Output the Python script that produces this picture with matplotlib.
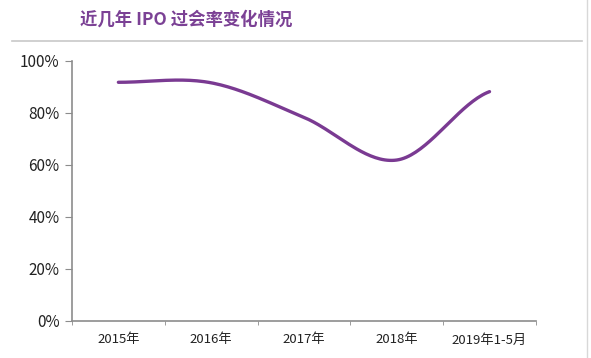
import numpy as np
import matplotlib.pyplot as plt

plt.rcParams['font.family'] = ['Noto Sans CJK SC', 'DejaVu Sans']

categories = ['2015年', '2016年', '2017年', '2018年', '2019年1-5月']
pass_rate = [91.8, 91.6, 78.3, 61.9, 88.2]
y_ticks = [0, 20, 40, 60, 80, 100]

purple = '#7a3a92'


def smooth_curve(xs, ys, n=40):
    # Catmull-Rom style smoothing like Excel's smoothed line
    xs = np.asarray(xs, float)
    ys = np.asarray(ys, float)
    px = np.concatenate([[2 * xs[0] - xs[1]], xs, [2 * xs[-1] - xs[-2]]])
    py = np.concatenate([[ys[0]], ys, [ys[-1]]])
    out_x, out_y = [], []
    for i in range(1, len(px) - 2):
        t = np.linspace(0, 1, n)
        for arr, out in ((px, out_x), (py, out_y)):
            p0, p1, p2, p3 = arr[i - 1], arr[i], arr[i + 1], arr[i + 2]
            m1 = (p2 - p0) / 2
            m2 = (p3 - p1) / 2
            h00 = 2 * t**3 - 3 * t**2 + 1
            h10 = t**3 - 2 * t**2 + t
            h01 = -2 * t**3 + 3 * t**2
            h11 = t**3 - t**2
            out.extend(h00 * p1 + h10 * m1 + h01 * p2 + h11 * m2)
    return out_x, out_y


fig = plt.figure(figsize=(5.91, 3.58), dpi=100)
ax = fig.add_axes([0.1218, 0.1034, 0.785, 0.7263])

x = np.arange(len(categories))
sx, sy = smooth_curve(x, pass_rate)
ax.plot(sx, sy, color=purple, lw=2.4, solid_capstyle='round')

ax.set_xlim(-0.5, len(categories) - 0.5)
ax.set_ylim(0, 100)
ax.set_yticks(y_ticks)
ax.set_yticklabels([f'{v}%' for v in y_ticks], fontsize=11, color='#222222')
ax.set_xticks(x)
ax.set_xticklabels(categories, fontsize=9.5, color='#222222', fontweight='medium')
ax.set_xticks(np.arange(len(categories) + 1) - 0.5, minor=True)
ax.tick_params(axis='x', which='major', length=0, pad=9)
ax.tick_params(axis='x', which='minor', length=3, color='#8c8c8c', direction='out')
ax.tick_params(axis='y', length=5, color='#8c8c8c', pad=4)

for side in ['top', 'right']:
    ax.spines[side].set_visible(False)
for side in ['left', 'bottom']:
    ax.spines[side].set_color('#8c8c8c')
    ax.spines[side].set_linewidth(1.2)

fig.text(0.135, 0.945, '近几年 IPO 过会率变化情况', fontsize=12.5, fontweight='bold',
         color='#7b4195', va='center', ha='left')
fig.add_artist(plt.Line2D([0.02, 0.985], [0.885, 0.885], color='#c8c8c8', lw=1.2))
fig.add_artist(plt.Line2D([0.993, 0.993], [0.0, 1.0], color='#d8d8d8', lw=1))

fig.savefig('out.png', dpi=100)
